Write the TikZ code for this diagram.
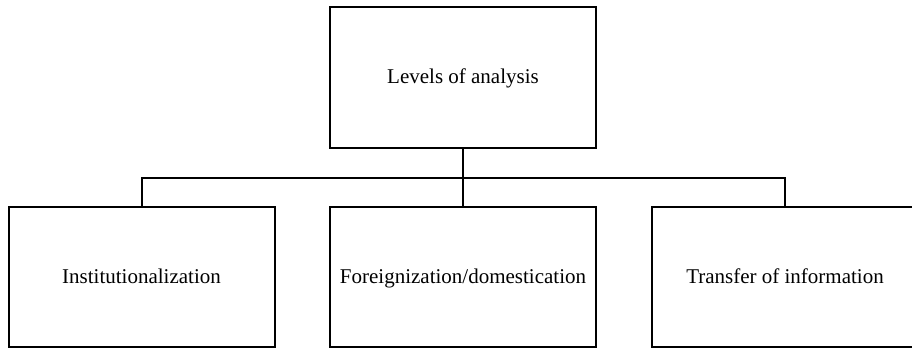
\documentclass[tikz,border=0pt]{standalone}
\usepackage{fontspec}
\setmainfont{Liberation Serif}
\begin{document}
\begin{tikzpicture}[x=1pt,y=-1pt,
  box/.style={draw=black,line width=2pt,minimum width=266pt,minimum height=140pt,inner sep=0pt,text height=15pt,text depth=3pt,font=\fontsize{21}{25}\selectfont},
  conn/.style={draw=black,line width=2pt}]
\useasboundingbox (0,0) rectangle (912,348);
\clip (0,0) rectangle (912,348);
\node[box,minimum height=141pt] (top) at (463,77.5) {Levels of analysis};
\node[box] (left) at (141.5,277) {Institutionalization};
\node[box] (mid) at (463,277) {Foreignization/domestication};
\node[box] (right) at (785,277) {Transfer of information};
\coordinate (bus) at (463,178);
\draw[conn] (top.south) -- (mid.north);
\draw[conn] (left.north) |- (bus) -| (right.north);
\end{tikzpicture}
\end{document}
